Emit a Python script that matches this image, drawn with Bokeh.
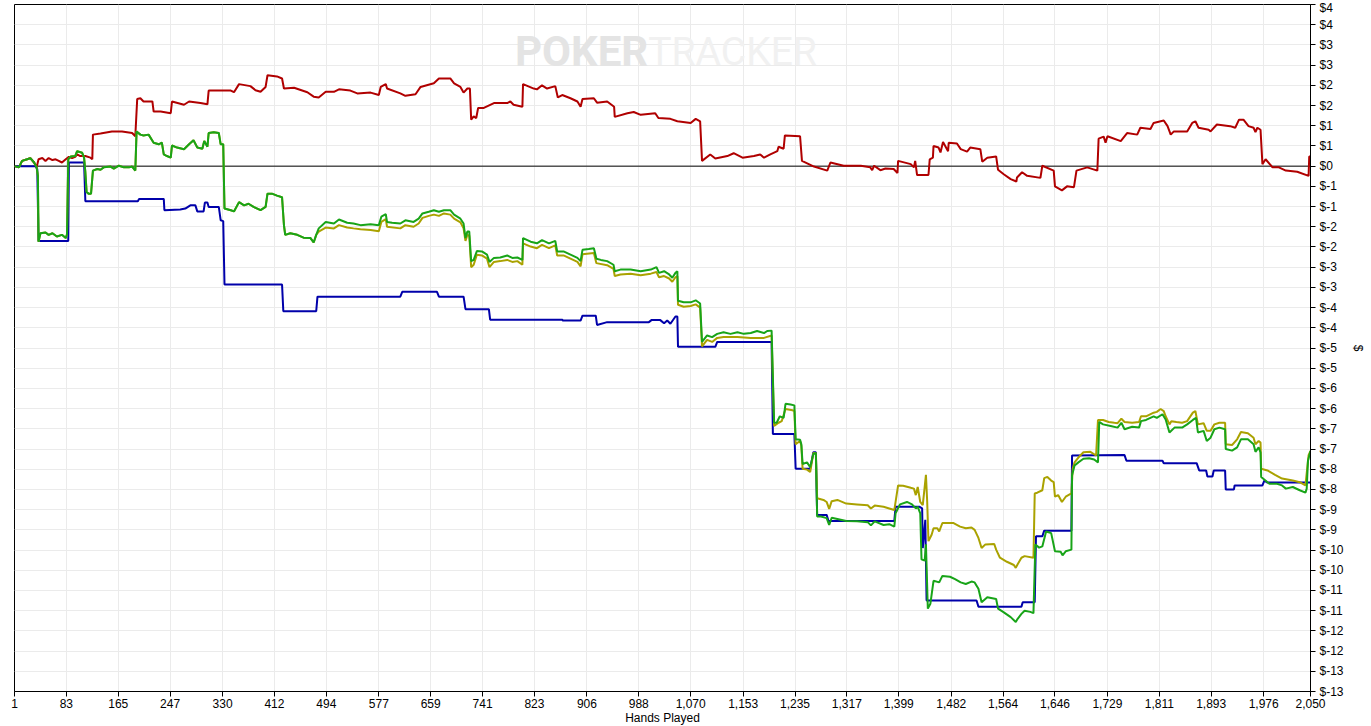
from bokeh.plotting import figure
from bokeh.models import Range1d, FixedTicker, Span, Label
from bokeh.embed import file_html
from bokeh.resources import INLINE

# ---- data: (hands played, $ won) ----
red_points = [
    (1, 0.0), (8, -0.03), (13, 0.13), (21, 0.17), (26, 0.20), (32, 0.09), (36, -0.03), (39, 0.17),
    (45, 0.20), (50, 0.13), (55, 0.20), (61, 0.15), (66, 0.17), (71, 0.13), (76, 0.09), (82, 0.17),
    (87, 0.23), (92, 0.20), (97, 0.23), (100, 0.29), (105, 0.25), (113, 0.25), (121, 0.21), (124, 0.17),
    (125, 0.78), (137, 0.81), (155, 0.86), (171, 0.86), (187, 0.82), (192, 0.74), (195, 1.66), (200, 1.68),
    (205, 1.60), (219, 1.60), (221, 1.35), (232, 1.35), (248, 1.31), (250, 1.60), (269, 1.52), (277, 1.60),
    (295, 1.56), (306, 1.53), (308, 1.87), (343, 1.87), (348, 1.83), (356, 2.03), (374, 1.98), (382, 1.88),
    (390, 1.84), (398, 1.96), (401, 2.25), (416, 2.22), (424, 2.17), (427, 1.92), (443, 1.94), (464, 1.83),
    (474, 1.72), (482, 1.70), (493, 1.84), (506, 1.84), (514, 1.90), (532, 1.87), (543, 1.80), (564, 1.82),
    (577, 1.76), (580, 1.96), (588, 2.03), (590, 1.92), (611, 1.80), (619, 1.74), (635, 1.78), (643, 1.96),
    (664, 2.05), (672, 2.17), (680, 2.17), (690, 2.17), (696, 2.05), (706, 1.96), (711, 1.82), (717, 1.92),
    (721, 1.92), (723, 1.15), (727, 1.23), (731, 1.19), (734, 1.44), (743, 1.44), (759, 1.56), (780, 1.56),
    (785, 1.60), (790, 1.52), (804, 1.47), (805, 2.03), (822, 1.92), (827, 1.90), (835, 2.00), (843, 1.92),
    (856, 1.98), (860, 1.70), (867, 1.76), (880, 1.68), (891, 1.60), (896, 1.47), (899, 1.66), (917, 1.68),
    (922, 1.57), (938, 1.60), (949, 1.47), (950, 1.22), (970, 1.31), (980, 1.34), (991, 1.27), (1014, 1.31),
    (1019, 1.19), (1038, 1.17), (1049, 1.11), (1070, 1.07), (1078, 1.17), (1085, 1.11), (1088, 0.13),
    (1101, 0.29), (1109, 0.19), (1128, 0.25), (1138, 0.32), (1152, 0.21), (1170, 0.25), (1180, 0.29),
    (1186, 0.21), (1196, 0.29), (1207, 0.37), (1209, 0.48), (1217, 0.43), (1219, 0.76), (1243, 0.74),
    (1246, 0.13), (1265, -0.01), (1286, -0.11), (1291, 0.09), (1312, 0.01), (1339, 0.01), (1354, -0.03),
    (1357, -0.10), (1360, 0.01), (1370, -0.10), (1378, -0.06), (1391, -0.07), (1397, -0.17), (1398, 0.13),
    (1418, 0.05), (1423, -0.03), (1425, 0.13), (1428, -0.22), (1446, -0.22), (1448, 0.17), (1453, 0.21),
    (1454, 0.50), (1462, 0.46), (1465, 0.34), (1469, 0.60), (1477, 0.37), (1478, 0.58), (1491, 0.56),
    (1497, 0.42), (1507, 0.36), (1512, 0.46), (1528, 0.42), (1531, 0.11), (1539, 0.21), (1553, 0.24),
    (1556, -0.09), (1565, -0.20), (1576, -0.32), (1585, -0.38), (1586, -0.28), (1594, -0.15), (1602, -0.24),
    (1623, -0.29), (1626, 0.01), (1644, -0.11), (1646, -0.50), (1657, -0.60), (1665, -0.50), (1676, -0.52),
    (1680, -0.11), (1697, -0.03), (1713, -0.11), (1715, 0.68), (1723, 0.73), (1726, 0.58), (1729, 0.74),
    (1750, 0.62), (1760, 0.82), (1776, 0.78), (1781, 0.95), (1797, 0.92), (1802, 1.07), (1818, 1.13),
    (1824, 0.99), (1829, 0.78), (1834, 0.86), (1855, 0.86), (1863, 1.07), (1868, 1.11), (1873, 0.95),
    (1889, 0.90), (1892, 0.86), (1902, 1.03), (1923, 0.99), (1931, 0.95), (1937, 1.15), (1944, 1.15),
    (1952, 0.99), (1960, 0.95), (1963, 0.84), (1966, 0.95), (1971, 0.90), (1974, 0.05), (1979, 0.17),
    (1990, -0.03), (2000, -0.03), (2011, -0.11), (2029, -0.14), (2047, -0.24), (2048, 0.24), (2050, 0.24),
]

# shared start of the green and olive lines (they coincide until ~480 hands)
green_olive_start = [
    (1, 0.0), (8, -0.03), (13, 0.13), (21, 0.17), (26, 0.20), (32, 0.09), (36, -0.03), (38, -0.24),
    (39, -1.87), (42, -1.66), (50, -1.64), (55, -1.70), (61, -1.66), (68, -1.74), (76, -1.70), (82, -1.78),
    (84, -1.69), (86, 0.17), (90, 0.24), (97, 0.25), (100, 0.37), (108, 0.33), (111, 0.21), (113, -0.15),
    (115, -0.64), (118, -0.68), (122, -0.68), (125, -0.11), (132, -0.07), (137, -0.09), (142, -0.03),
    (153, -0.01), (158, -0.06), (166, 0.01), (174, -0.03), (182, -0.03), (187, -0.01), (192, -0.11),
    (194, 0.86), (200, 0.78), (205, 0.76), (213, 0.78), (221, 0.58), (229, 0.54), (234, 0.58), (237, 0.29),
    (242, 0.25), (248, 0.21), (250, 0.51), (258, 0.46), (269, 0.42), (277, 0.54), (284, 0.64), (290, 0.46),
    (298, 0.43), (301, 0.62), (306, 0.48), (308, 0.82), (316, 0.84), (324, 0.82), (327, 0.54), (331, 0.54),
    (333, -1.05), (343, -1.09), (348, -1.12), (356, -0.89), (364, -0.97), (371, -0.93), (379, -1.01),
    (390, -1.09), (398, -1.01), (401, -0.68), (408, -0.68), (416, -0.73), (424, -0.77), (427, -1.46),
    (429, -1.70), (437, -1.66), (448, -1.70), (458, -1.77), (469, -1.78), (474, -1.89), (478, -1.70),
]

green_rest = [
    (482, -1.54), (493, -1.38), (506, -1.42), (514, -1.32), (527, -1.40), (537, -1.42), (548, -1.46),
    (564, -1.44), (577, -1.46), (581, -1.25), (588, -1.19), (590, -1.38), (598, -1.40), (611, -1.42),
    (619, -1.34), (632, -1.38), (640, -1.30), (646, -1.17), (656, -1.13), (664, -1.09), (672, -1.13),
    (680, -1.09), (690, -1.09), (696, -1.20), (706, -1.30), (711, -1.42), (714, -1.78), (717, -1.62),
    (720, -1.62), (723, -2.35), (727, -2.32), (732, -2.10), (740, -2.11), (748, -2.19), (752, -2.37),
    (759, -2.27), (769, -2.26), (780, -2.21), (788, -2.27), (796, -2.26), (804, -2.32), (805, -1.78),
    (817, -1.87), (827, -1.91), (835, -1.83), (846, -1.91), (856, -1.85), (859, -2.11), (869, -2.11),
    (880, -2.19), (891, -2.27), (896, -2.35), (899, -2.07), (909, -2.05), (917, -2.03), (921, -2.29),
    (928, -2.32), (938, -2.35), (948, -2.44), (950, -2.60), (959, -2.56), (975, -2.56), (991, -2.60),
    (1007, -2.56), (1016, -2.50), (1020, -2.64), (1028, -2.60), (1036, -2.68), (1041, -2.76), (1046, -2.64),
    (1049, -2.60), (1050, -3.33), (1059, -3.37), (1070, -3.37), (1078, -3.32), (1085, -3.40), (1088, -4.35),
    (1096, -4.19), (1104, -4.23), (1112, -4.15), (1122, -4.11), (1133, -4.15), (1144, -4.11), (1154, -4.15),
    (1165, -4.13), (1175, -4.08), (1186, -4.13), (1191, -4.08), (1198, -4.07), (1202, -6.35), (1206, -6.35),
    (1211, -6.19), (1217, -6.23), (1220, -5.88), (1228, -5.90), (1234, -5.92), (1236, -6.76), (1243, -6.77),
    (1245, -6.88), (1247, -7.37), (1254, -7.33), (1259, -7.45), (1264, -7.12), (1268, -7.10), (1270, -8.67),
    (1276, -8.67), (1285, -8.71), (1289, -8.88), (1293, -8.70), (1302, -8.73), (1316, -8.78), (1333, -8.79),
    (1350, -8.81), (1355, -8.89), (1361, -8.79), (1375, -8.88), (1384, -8.86), (1392, -8.92), (1394, -8.59),
    (1401, -8.37), (1412, -8.31), (1420, -8.37), (1426, -8.47), (1429, -8.43), (1433, -8.59), (1435, -9.73),
    (1440, -9.76), (1442, -9.36), (1445, -10.95), (1449, -10.83), (1454, -10.26), (1463, -10.30),
    (1468, -10.14), (1480, -10.16), (1488, -10.22), (1497, -10.30), (1505, -10.34), (1514, -10.28),
    (1519, -10.30), (1525, -10.46), (1530, -10.79), (1539, -10.67), (1553, -10.71), (1556, -10.95),
    (1564, -11.03), (1576, -11.16), (1584, -11.28), (1587, -11.20), (1593, -11.08), (1598, -11.00),
    (1607, -11.03), (1612, -11.06), (1615, -9.36), (1621, -9.44), (1626, -9.41), (1632, -9.04),
    (1640, -9.08), (1646, -9.53), (1655, -9.54), (1658, -9.63), (1663, -9.53), (1672, -9.49), (1673, -7.65),
    (1677, -7.41), (1683, -7.33), (1691, -7.24), (1700, -7.23), (1708, -7.26), (1714, -7.33), (1716, -6.33),
    (1722, -6.39), (1734, -6.43), (1745, -6.47), (1751, -6.35), (1756, -6.51), (1768, -6.45), (1779, -6.47),
    (1782, -6.31), (1790, -6.28), (1802, -6.19), (1807, -6.23), (1816, -6.14), (1821, -6.27), (1827, -6.59),
    (1835, -6.47), (1847, -6.47), (1855, -6.39), (1864, -6.28), (1869, -6.23), (1872, -6.59), (1881, -6.55),
    (1886, -6.80), (1892, -6.72), (1898, -6.51), (1906, -6.47), (1915, -6.51), (1916, -7.00), (1926, -7.04),
    (1934, -6.96), (1940, -6.76), (1951, -6.76), (1960, -6.88), (1963, -7.07), (1968, -6.96), (1971, -7.08),
    (1972, -7.69), (1985, -7.86), (1997, -7.86), (2005, -7.90), (2011, -7.98), (2022, -7.94), (2033, -8.02),
    (2042, -8.08), (2044, -7.98), (2046, -7.29), (2050, -7.05),
]

olive_rest = [
    (482, -1.62), (493, -1.52), (506, -1.54), (514, -1.46), (527, -1.52), (537, -1.54), (548, -1.56),
    (564, -1.58), (577, -1.61), (581, -1.38), (588, -1.31), (590, -1.50), (611, -1.54), (619, -1.46),
    (632, -1.50), (640, -1.42), (646, -1.28), (656, -1.23), (664, -1.20), (672, -1.23), (680, -1.17),
    (690, -1.20), (696, -1.30), (706, -1.39), (711, -1.54), (714, -1.85), (717, -1.70), (720, -1.72),
    (723, -2.50), (727, -2.44), (732, -2.19), (740, -2.21), (748, -2.29), (752, -2.50), (759, -2.37),
    (769, -2.35), (780, -2.32), (788, -2.37), (796, -2.35), (804, -2.44), (805, -1.91), (817, -1.99),
    (827, -2.03), (835, -1.95), (846, -2.03), (856, -1.96), (859, -2.21), (869, -2.21), (880, -2.29),
    (891, -2.37), (896, -2.48), (899, -2.18), (917, -2.15), (921, -2.40), (938, -2.45), (948, -2.54),
    (950, -2.72), (959, -2.68), (975, -2.66), (991, -2.70), (1007, -2.66), (1016, -2.62), (1020, -2.75),
    (1028, -2.72), (1036, -2.78), (1041, -2.86), (1046, -2.75), (1049, -2.72), (1050, -3.43), (1059, -3.48),
    (1070, -3.46), (1078, -3.42), (1085, -3.50), (1088, -4.46), (1096, -4.30), (1104, -4.35), (1112, -4.25),
    (1122, -4.23), (1144, -4.23), (1165, -4.25), (1186, -4.25), (1198, -4.19), (1202, -6.43), (1209, -6.35),
    (1214, -6.31), (1220, -6.01), (1231, -6.04), (1234, -6.06), (1236, -6.88), (1243, -6.80), (1245, -6.92),
    (1247, -7.49), (1254, -7.51), (1259, -7.57), (1264, -7.10), (1268, -7.10), (1270, -8.22), (1280, -8.26),
    (1285, -8.31), (1289, -8.48), (1293, -8.29), (1302, -8.26), (1316, -8.35), (1333, -8.37), (1350, -8.39),
    (1355, -8.47), (1361, -8.40), (1375, -8.43), (1384, -8.47), (1392, -8.51), (1398, -7.90), (1406, -7.91),
    (1418, -7.96), (1423, -7.98), (1426, -8.14), (1429, -7.94), (1433, -8.31), (1437, -8.39), (1442, -7.64),
    (1444, -8.31), (1446, -9.28), (1451, -9.12), (1454, -8.96), (1460, -8.96), (1463, -9.04), (1468, -8.83),
    (1485, -8.83), (1496, -8.92), (1505, -8.96), (1514, -8.94), (1519, -9.00), (1525, -9.20), (1530, -9.45),
    (1536, -9.36), (1550, -9.35), (1553, -9.49), (1559, -9.69), (1570, -9.79), (1581, -9.87), (1584, -9.94),
    (1587, -9.85), (1593, -9.69), (1598, -9.65), (1612, -9.69), (1614, -8.10), (1618, -8.08), (1626, -8.02),
    (1629, -7.72), (1634, -7.69), (1640, -7.78), (1644, -7.82), (1646, -8.18), (1651, -8.14), (1657, -8.31),
    (1663, -8.18), (1672, -8.10), (1674, -7.49), (1677, -7.33), (1683, -7.21), (1691, -7.08), (1702, -7.07),
    (1711, -7.16), (1714, -6.28), (1722, -6.28), (1731, -6.33), (1740, -6.35), (1745, -6.36), (1751, -6.25),
    (1756, -6.33), (1768, -6.35), (1779, -6.33), (1782, -6.19), (1790, -6.19), (1802, -6.10), (1807, -6.08),
    (1813, -6.01), (1818, -6.06), (1821, -6.19), (1827, -6.39), (1830, -6.31), (1838, -6.33), (1847, -6.35),
    (1855, -6.31), (1864, -6.10), (1868, -6.06), (1872, -6.39), (1881, -6.36), (1886, -6.55), (1892, -6.55),
    (1898, -6.39), (1906, -6.35), (1915, -6.35), (1916, -6.88), (1926, -6.90), (1934, -6.76), (1940, -6.58),
    (1951, -6.61), (1960, -6.72), (1963, -6.88), (1968, -6.80), (1971, -6.84), (1972, -7.49), (1982, -7.53),
    (1994, -7.64), (2005, -7.73), (2022, -7.78), (2033, -7.82), (2042, -7.90), (2047, -7.15), (2050, -7.05),
]

blue_points = [
    (1, 0.0), (34, 0.0), (37, -0.07), (39, -1.85), (86, -1.85), (87, 0.09), (111, 0.09), (113, -0.87),
    (196, -0.87), (198, -0.81), (237, -0.81), (238, -1.09), (263, -1.07), (271, -1.05), (279, -0.97),
    (287, -0.97), (290, -1.12), (300, -1.12), (302, -0.90), (306, -0.90), (308, -1.01), (324, -1.01),
    (327, -1.34), (331, -1.36), (333, -2.93), (424, -2.93), (426, -3.59), (478, -3.59), (480, -3.23),
    (611, -3.23), (614, -3.11), (669, -3.11), (672, -3.23), (711, -3.23), (714, -3.54), (751, -3.54),
    (753, -3.80), (867, -3.80), (868, -3.82), (896, -3.82), (899, -3.70), (920, -3.70), (922, -3.93),
    (938, -3.86), (1004, -3.86), (1008, -3.81), (1022, -3.81), (1028, -3.89), (1033, -3.82), (1038, -3.90),
    (1046, -3.72), (1049, -3.72), (1050, -4.47), (1109, -4.47), (1112, -4.35), (1198, -4.35), (1200, -6.63),
    (1234, -6.63), (1236, -7.49), (1259, -7.49), (1264, -7.08), (1268, -7.08), (1270, -8.63), (1285, -8.63),
    (1288, -8.78), (1392, -8.78), (1394, -8.43), (1432, -8.43), (1436, -8.47), (1437, -9.45), (1441, -8.75),
    (1443, -10.75), (1522, -10.75), (1525, -10.90), (1593, -10.90), (1595, -10.79), (1614, -10.79),
    (1616, -9.16), (1626, -9.16), (1629, -9.02), (1672, -9.02), (1673, -7.16), (1756, -7.15), (1759, -7.29),
    (1816, -7.29), (1818, -7.35), (1870, -7.35), (1874, -7.53), (1885, -7.53), (1887, -7.68), (1895, -7.68),
    (1897, -7.53), (1915, -7.53), (1916, -8.00), (1929, -8.00), (1930, -7.90), (1974, -7.90), (1977, -7.78),
    (1982, -7.83), (2050, -7.83),
]

x_ticks = [1, 83, 165, 247, 330, 412, 494, 577, 659, 741, 823, 906, 988, 1070, 1153, 1235, 1317,
           1399, 1482, 1564, 1646, 1729, 1811, 1893, 1976, 2050]
x_tick_labels = ["1", "83", "165", "247", "330", "412", "494", "577", "659", "741", "823", "906", "988",
                 "1,070", "1,153", "1,235", "1,317", "1,399", "1,482", "1,564", "1,646", "1,729", "1,811",
                 "1,893", "1,976", "2,050"]
y_ticks = [4, 3.5, 3, 2.5, 2, 1.5, 1, 0.5, 0, -0.5, -1, -1.5, -2, -2.5, -3, -3.5, -4, -4.5, -5, -5.5,
           -6, -6.5, -7, -7.5, -8, -8.5, -9, -9.5, -10, -10.5, -11, -11.5, -12, -12.5, -13]
y_tick_labels = ["$4", "$4", "$3", "$3", "$2", "$2", "$1", "$1", "$0", "$-1", "$-1", "$-2", "$-2",
                 "$-3", "$-3", "$-4", "$-4", "$-5", "$-5", "$-6", "$-6", "$-7", "$-7", "$-8", "$-8",
                 "$-9", "$-9", "$-10", "$-10", "$-11", "$-11", "$-12", "$-12", "$-13", "$-13"]

series_colors = {"red": "#b00000", "blue": "#0000aa", "olive": "#aaa200", "green": "#18a418"}


def unzip(points):
    return [a for a, _ in points], [b for _, b in points]


FONT = "Liberation Sans"

p = figure(frame_width=1296, frame_height=687,
           x_range=Range1d(1, 2050), y_range=Range1d(-13, 4),
           y_axis_location="right", output_backend="svg", toolbar_location=None,
           min_border_left=14, min_border_top=4, min_border_right=4, min_border_bottom=2,
           background_fill_color="white", border_fill_color="white")

p.outline_line_color = "black"
p.outline_line_width = 1
p.outline_line_alpha = 1.0

p.xgrid.ticker = FixedTicker(ticks=x_ticks)
p.ygrid.ticker = FixedTicker(ticks=y_ticks)
for g in (p.xgrid, p.ygrid):
    g.grid_line_color = "#ebebeb"
    g.grid_line_width = 1

xa = p.xaxis[0]
xa.ticker = FixedTicker(ticks=x_ticks)
xa.major_label_overrides = dict(zip(x_ticks, x_tick_labels))
xa.axis_label = "Hands Played"

ya = p.yaxis[0]
ya.ticker = FixedTicker(ticks=y_ticks)
ya.major_label_overrides = dict(zip(y_ticks, y_tick_labels))
ya.axis_label = "$"

for ax in (xa, ya):
    ax.axis_line_color = "black"
    ax.major_tick_line_color = "black"
    ax.major_tick_in = 0
    ax.major_tick_out = 5
    ax.minor_tick_line_color = None
    ax.major_label_text_font = FONT
    ax.major_label_text_font_size = "12px"
    ax.major_label_text_color = "black"
    ax.axis_label_text_font = FONT
    ax.axis_label_text_font_size = "12px"
    ax.axis_label_text_font_style = "normal"
    ax.axis_label_text_color = "black"
xa.major_label_standoff = 2
xa.axis_label_standoff = 0
ya.major_label_standoff = 4
ya.axis_label_standoff = 4

# watermark
p.add_layout(Label(x=1003, y=2.83, text="POKER", text_align="right", text_baseline="middle",
                   text_font="Roboto", text_font_size="42px", text_font_style="bold",
                   text_color="#e4e4e4", level="underlay"))
p.add_layout(Label(x=1003, y=2.83, text="TRACKER", text_align="left", text_baseline="middle",
                   text_font="Roboto", text_font_size="39px", text_font_style="normal",
                   text_color="#f1f1f1", level="underlay"))

p.add_layout(Span(location=0, dimension="width", line_color="black", line_width=1, level="underlay"))

green_points = green_olive_start + green_rest
olive_points = green_olive_start + olive_rest

for pts, col in ((red_points, "red"), (blue_points, "blue"), (olive_points, "olive"), (green_points, "green")):
    xs, ys = unzip(pts)
    p.line(xs, ys, line_color=series_colors[col], line_width=2)

open("out.html", "w").write(file_html(p, INLINE))
